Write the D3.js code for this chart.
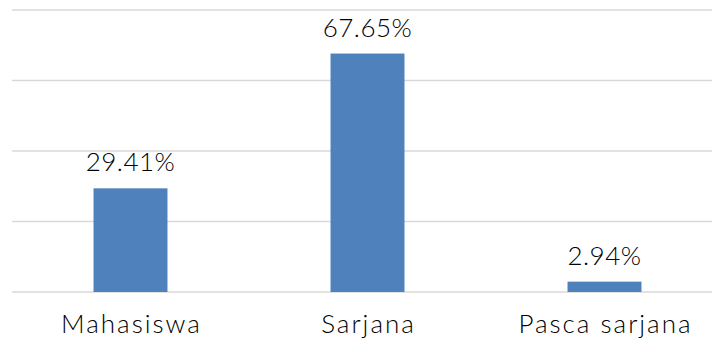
<!DOCTYPE html>
<html>
<head>
<meta charset="utf-8">
<script src="https://cdn.jsdelivr.net/npm/d3@7"></script>
<style>
  body { margin: 0; background: #fff; }
  text { font-family: "Lato", "DejaVu Sans", sans-serif; font-weight: 300; fill: #000; }
</style>
</head>
<body>
<div id="chart"></div>
<script>
const categories = ['Mahasiswa', 'Sarjana', 'Pasca sarjana'];
const values = [29.41, 67.65, 2.94];
const yTicks = [0, 20, 40, 60, 80];

const width = 712, height = 340;
const margin = { top: 10, right: -11, bottom: 48, left: 12 };

const svg = d3.select('#chart')
  .append('svg')
  .attr('width', width)
  .attr('height', height);

const x = d3.scaleBand()
  .domain(categories)
  .range([margin.left, width - margin.right])
  .paddingInner(0.688)
  .paddingOuter(0.344);

const y = d3.scaleLinear()
  .domain([0, 80])
  .range([height - margin.bottom, margin.top]);

// gridlines
svg.append('g')
  .selectAll('line')
  .data(yTicks)
  .enter()
  .append('line')
  .attr('x1', margin.left)
  .attr('x2', width)
  .attr('y1', d => y(d))
  .attr('y2', d => y(d))
  .attr('stroke', '#d9d9d9')
  .attr('stroke-width', 1.5);

svg.append('g')
  .selectAll('rect')
  .data(values)
  .enter()
  .append('rect')
  .attr('x', (d, i) => x(categories[i]))
  .attr('y', d => y(d))
  .attr('width', x.bandwidth())
  .attr('height', d => y(0) - y(d))
  .attr('fill', '#4f81bd');

// value labels
svg.append('g')
  .selectAll('text')
  .data(values)
  .enter()
  .append('text')
  .attr('x', (d, i) => x(categories[i]) + x.bandwidth() / 2)
  .attr('y', d => y(d) - 17)
  .attr('text-anchor', 'middle')
  .style('font-size', '26px')
  .style('letter-spacing', '0.5px')
  .text(d => d.toFixed(2) + '%');

// category labels
svg.append('g')
  .selectAll('text')
  .data(categories)
  .enter()
  .append('text')
  .attr('x', d => x(d) + x.bandwidth() / 2 + 1)
  .attr('y', 333)
  .attr('text-anchor', 'middle')
  .style('font-size', '26px')
  .style('letter-spacing', '2px')
  .text(d => d);
</script>
</body>
</html>
